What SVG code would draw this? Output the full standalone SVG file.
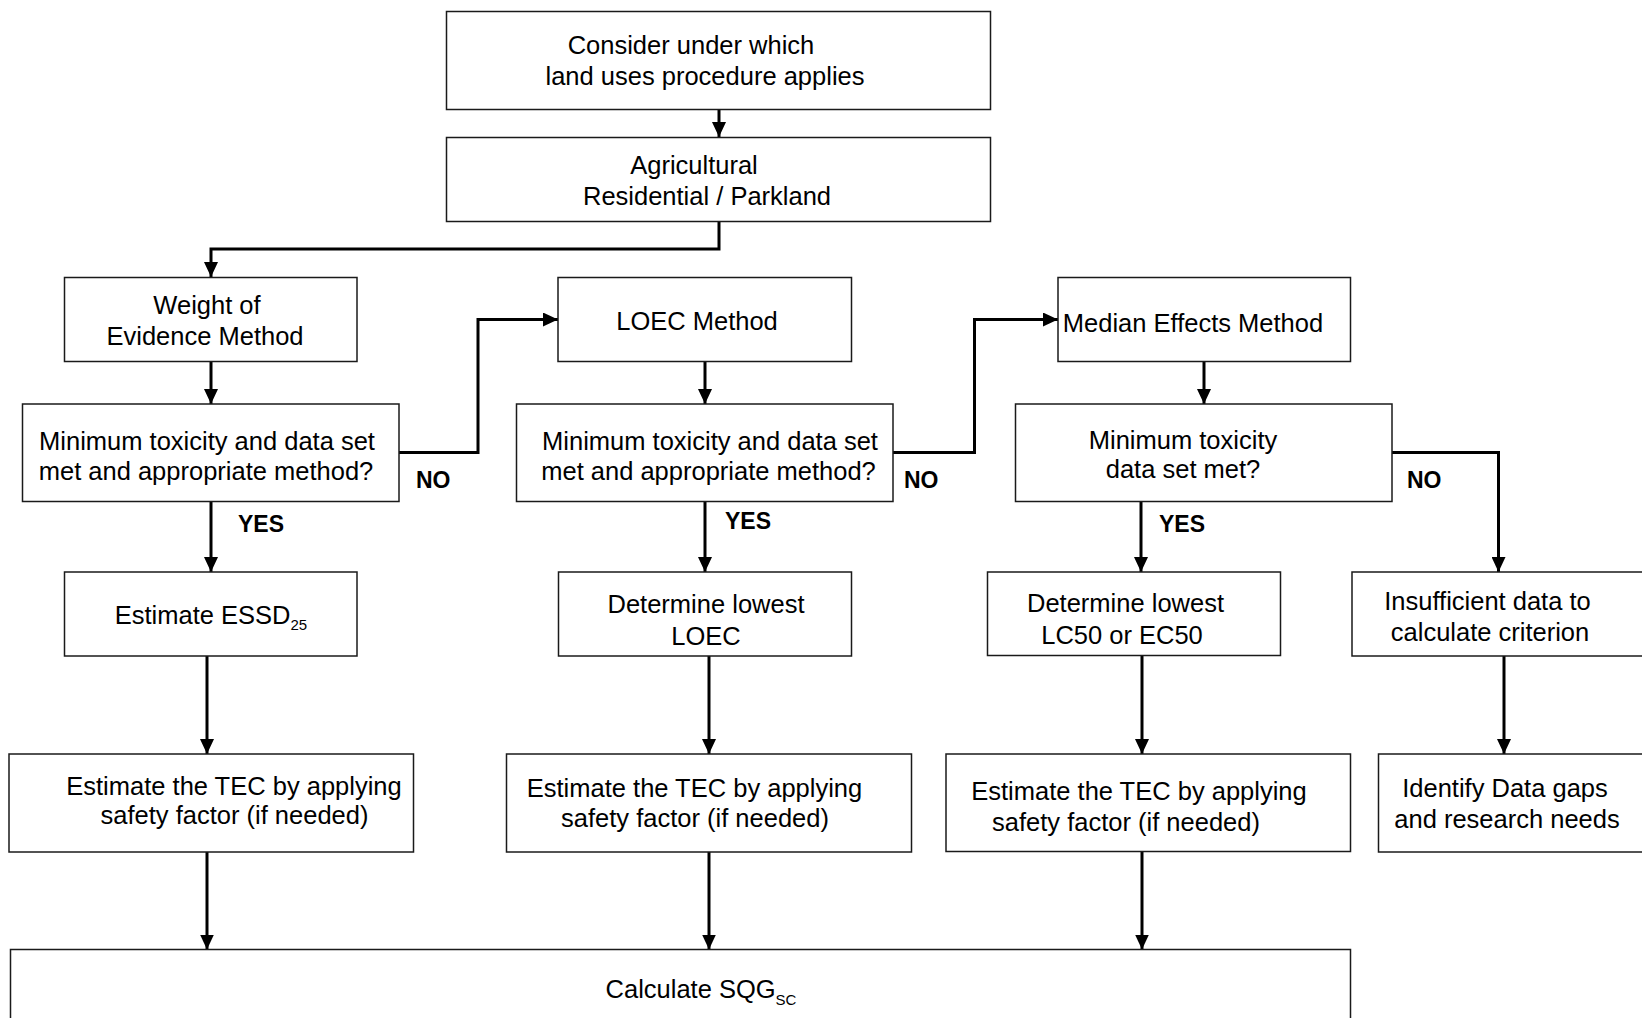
<svg xmlns="http://www.w3.org/2000/svg" width="1642" height="1018" viewBox="0 0 1642 1018">
<style>
.box{fill:#fff;stroke:#1a1a1a;stroke-width:1.5}
.t{font-family:"Liberation Sans",Arial,sans-serif;font-size:25.5px;fill:#000;text-anchor:middle}
.lbl{font-family:"Liberation Sans",Arial,sans-serif;font-size:23px;font-weight:bold;fill:#000}
.sub{font-size:15px}
.c{fill:none;stroke:#000;stroke-width:3;marker-end:url(#ah)}
</style>
<defs>
<marker id="ah" markerUnits="userSpaceOnUse" markerWidth="15" markerHeight="14" refX="15" refY="7" orient="auto">
<path d="M0,0 L15,7 L0,14 Z" fill="#000"/>
</marker>
</defs>
<rect width="1642" height="1018" fill="#fff"/>
<g id="connectors">
<path class="c" d="M719,110 V137"/>
<path class="c" d="M719,222 V249 H211 V277"/>
<path class="c" d="M211,362 V404"/>
<path class="c" d="M399,452.5 H478 V319.5 H558"/>
<path class="c" d="M705,362 V404"/>
<path class="c" d="M893,452.5 H974.5 V319.5 H1058"/>
<path class="c" d="M1204,362 V404"/>
<path class="c" d="M1392,452.5 H1498.5 V572"/>
<path class="c" d="M211,502 V572"/>
<path class="c" d="M705,502 V572"/>
<path class="c" d="M1141,502 V572"/>
<path class="c" d="M207,656 V754"/>
<path class="c" d="M709,656 V754"/>
<path class="c" d="M1142,656 V754"/>
<path class="c" d="M1504,656 V754"/>
<path class="c" d="M207,852 V949.5"/>
<path class="c" d="M709,852 V949.5"/>
<path class="c" d="M1142,852 V949.5"/>
<text class="lbl" x="416" y="488">NO</text>
<text class="lbl" x="904" y="488">NO</text>
<text class="lbl" x="1407" y="488">NO</text>
<text class="lbl" x="238" y="532">YES</text>
<text class="lbl" x="725" y="529">YES</text>
<text class="lbl" x="1159" y="532">YES</text>
</g>
<g id="n-consider">
<rect class="box" x="446.5" y="11.5" width="544" height="98"/>
<text class="t" x="691" y="54">Consider under which</text>
<text class="t" x="705" y="85">land uses procedure applies</text>
</g>
<g id="n-landuse">
<rect class="box" x="446.5" y="137.5" width="544" height="84"/>
<text class="t" x="694" y="174">Agricultural</text>
<text class="t" x="707" y="205">Residential / Parkland</text>
</g>
<g id="n-woe">
<rect class="box" x="64.5" y="277.5" width="292.5" height="84"/>
<text class="t" x="207" y="314">Weight of</text>
<text class="t" x="205" y="345">Evidence Method</text>
</g>
<g id="n-loec">
<rect class="box" x="558" y="277.5" width="293.5" height="84"/>
<text class="t" x="697" y="330">LOEC Method</text>
</g>
<g id="n-median">
<rect class="box" x="1058" y="277.5" width="292.5" height="84"/>
<text class="t" x="1193" y="332">Median Effects Method</text>
</g>
<g id="n-dec1">
<rect class="box" x="22.5" y="404" width="376.5" height="97.5"/>
<text class="t" x="207" y="450">Minimum toxicity and data set</text>
<text class="t" x="206" y="480">met and appropriate method?</text>
</g>
<g id="n-dec2">
<rect class="box" x="516.5" y="404" width="376.5" height="97.5"/>
<text class="t" x="710" y="450">Minimum toxicity and data set</text>
<text class="t" x="708.5" y="480">met and appropriate method?</text>
</g>
<g id="n-dec3">
<rect class="box" x="1015.5" y="404" width="376.5" height="97.5"/>
<text class="t" x="1183" y="449">Minimum toxicity</text>
<text class="t" x="1183" y="478">data set met?</text>
</g>
<g id="n-essd">
<rect class="box" x="64.5" y="572" width="292.5" height="84"/>
<text class="t" x="211" y="624">Estimate ESSD<tspan class="sub" dy="6">25</tspan></text>
</g>
<g id="n-lowloec">
<rect class="box" x="558.5" y="572" width="293" height="84"/>
<text class="t" x="706" y="613">Determine lowest</text>
<text class="t" x="706" y="645">LOEC</text>
</g>
<g id="n-lc50">
<rect class="box" x="987.5" y="572" width="293" height="83.5"/>
<text class="t" x="1125.5" y="612">Determine lowest</text>
<text class="t" x="1122" y="644">LC50 or EC50</text>
</g>
<g id="n-insufficient">
<rect class="box" x="1352" y="572" width="300" height="84"/>
<text class="t" x="1487.5" y="610">Insufficient data to</text>
<text class="t" x="1490" y="641">calculate criterion</text>
</g>
<g id="n-tec1">
<rect class="box" x="9" y="754" width="404.5" height="98"/>
<text class="t" x="234" y="795">Estimate the TEC by applying</text>
<text class="t" x="234.5" y="824">safety factor (if needed)</text>
</g>
<g id="n-tec2">
<rect class="box" x="506.5" y="754" width="405" height="98"/>
<text class="t" x="694.5" y="797">Estimate the TEC by applying</text>
<text class="t" x="695" y="827">safety factor (if needed)</text>
</g>
<g id="n-tec3">
<rect class="box" x="946" y="754" width="404.5" height="97.5"/>
<text class="t" x="1139" y="800">Estimate the TEC by applying</text>
<text class="t" x="1126" y="831">safety factor (if needed)</text>
</g>
<g id="n-identify">
<rect class="box" x="1378.5" y="754" width="280" height="98"/>
<text class="t" x="1505" y="797">Identify Data gaps</text>
<text class="t" x="1507" y="828">and research needs</text>
</g>
<g id="n-calc">
<rect class="box" x="10.5" y="949.5" width="1340" height="100"/>
<text class="t" x="701" y="998">Calculate SQG<tspan class="sub" dy="7">SC</tspan></text>
</g>
</svg>
